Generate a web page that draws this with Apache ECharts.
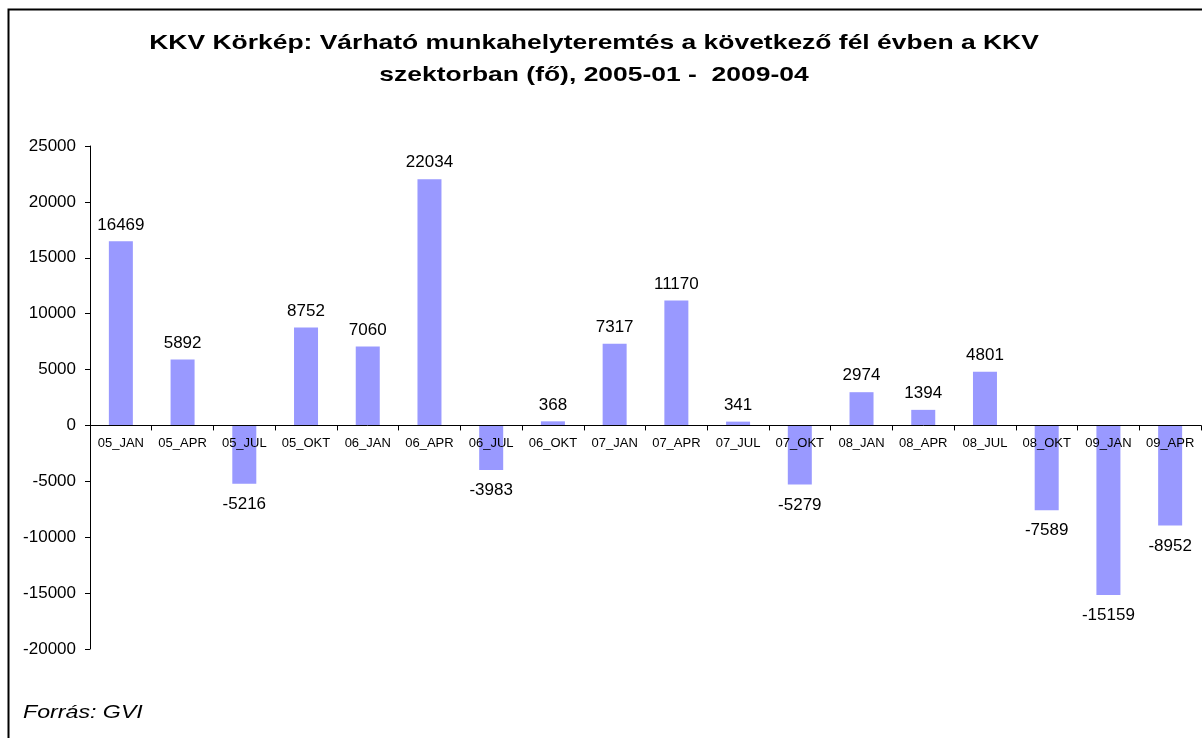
<!DOCTYPE html>
<html>
<head>
<meta charset="utf-8">
<script src="https://cdn.jsdelivr.net/npm/echarts@6/dist/echarts.min.js"></script>
<style>
html, body { margin: 0; padding: 0; background: #fff; }
#chart { width: 1202px; height: 738px; }
</style>
</head>
<body>
<div id="chart"></div>
<script>
var categories = ['05_JAN', '05_APR', '05_JUL', '05_OKT', '06_JAN', '06_APR', '06_JUL', '06_OKT', '07_JAN',
    '07_APR', '07_JUL', '07_OKT', '08_JAN', '08_APR', '08_JUL', '08_OKT', '09_JAN', '09_APR'];
var values = [16469, 5892, -5216, 8752, 7060, 22034, -3983, 368, 7317,
    11170, 341, -5279, 2974, 1394, 4801, -7589, -15159, -8952];
var titleText = 'KKV Körkép: Várható munkahelyteremtés a következő fél évben a KKV\nszektorban (fő), 2005-01 -  2009-04';
var sourceText = 'Forrás: GVI';
var yMin = -20000, yMax = 25000, yStep = 5000;

var font = 'Liberation Sans, Arial, sans-serif';
var gridTop = 146, gridBottom = 89;
var gridH = 738 - gridTop - gridBottom;
// x axis sits on the zero line
var xOffset = -gridH * (0 - yMin) / (yMax - yMin);

var chart = echarts.init(document.getElementById('chart'));

chart.setOption({
    backgroundColor: '#fff',
    animation: false,
    graphic: [
        {
            type: 'rect',
            shape: { x: 8.5, y: 9.5, width: 1300, height: 800 },
            style: { fill: null, stroke: '#000', lineWidth: 2 },
            z: 100
        },
        {
            type: 'text',
            x: 594,
            y: 27,
            scaleX: 1.26,
            style: {
                text: titleText,
                x: 0,
                y: 0,
                align: 'center',
                verticalAlign: 'top',
                fontFamily: font,
                fontSize: 21,
                fontWeight: 'bold',
                lineHeight: 32,
                fill: '#000'
            }
        },
        {
            type: 'text',
            x: 23,
            y: 713,
            scaleX: 1.22,
            style: {
                text: sourceText,
                x: 0,
                y: 0,
                verticalAlign: 'middle',
                fontFamily: font,
                fontSize: 19,
                fontStyle: 'italic',
                fill: '#000'
            }
        }
    ],
    grid: {
        left: 90,
        right: 1,
        top: gridTop,
        bottom: gridBottom
    },
    xAxis: {
        type: 'category',
        data: categories,
        z: 5,
        offset: xOffset,
        axisLine: { onZero: false, lineStyle: { color: '#000', width: 1 } },
        axisTick: { show: true, inside: false, length: 5, lineStyle: { color: '#000' } },
        axisLabel: {
            interval: 0,
            margin: 11,
            fontFamily: font,
            fontSize: 13,
            color: '#000'
        },
        splitLine: { show: false }
    },
    yAxis: {
        type: 'value',
        min: yMin,
        max: yMax,
        interval: yStep,
        axisLine: { show: true, lineStyle: { color: '#000', width: 1 } },
        axisTick: { show: true, inside: false, length: 5, lineStyle: { color: '#000' } },
        axisLabel: {
            margin: 14,
            fontFamily: font,
            fontSize: 17,
            color: '#000',
            formatter: function (v) { return String(v); }
        },
        splitLine: { show: false }
    },
    series: [{
        type: 'bar',
        data: values.map(function (v) {
            return {
                value: v,
                label: v >= 0 ? { position: 'top', distance: 8 } : { position: 'bottom', distance: 12 }
            };
        }),
        barWidth: 24,
        itemStyle: { color: '#9999FF' },
        label: {
            show: true,
            fontFamily: font,
            fontSize: 17,
            color: '#000'
        }
    }]
});
</script>
</body>
</html>
